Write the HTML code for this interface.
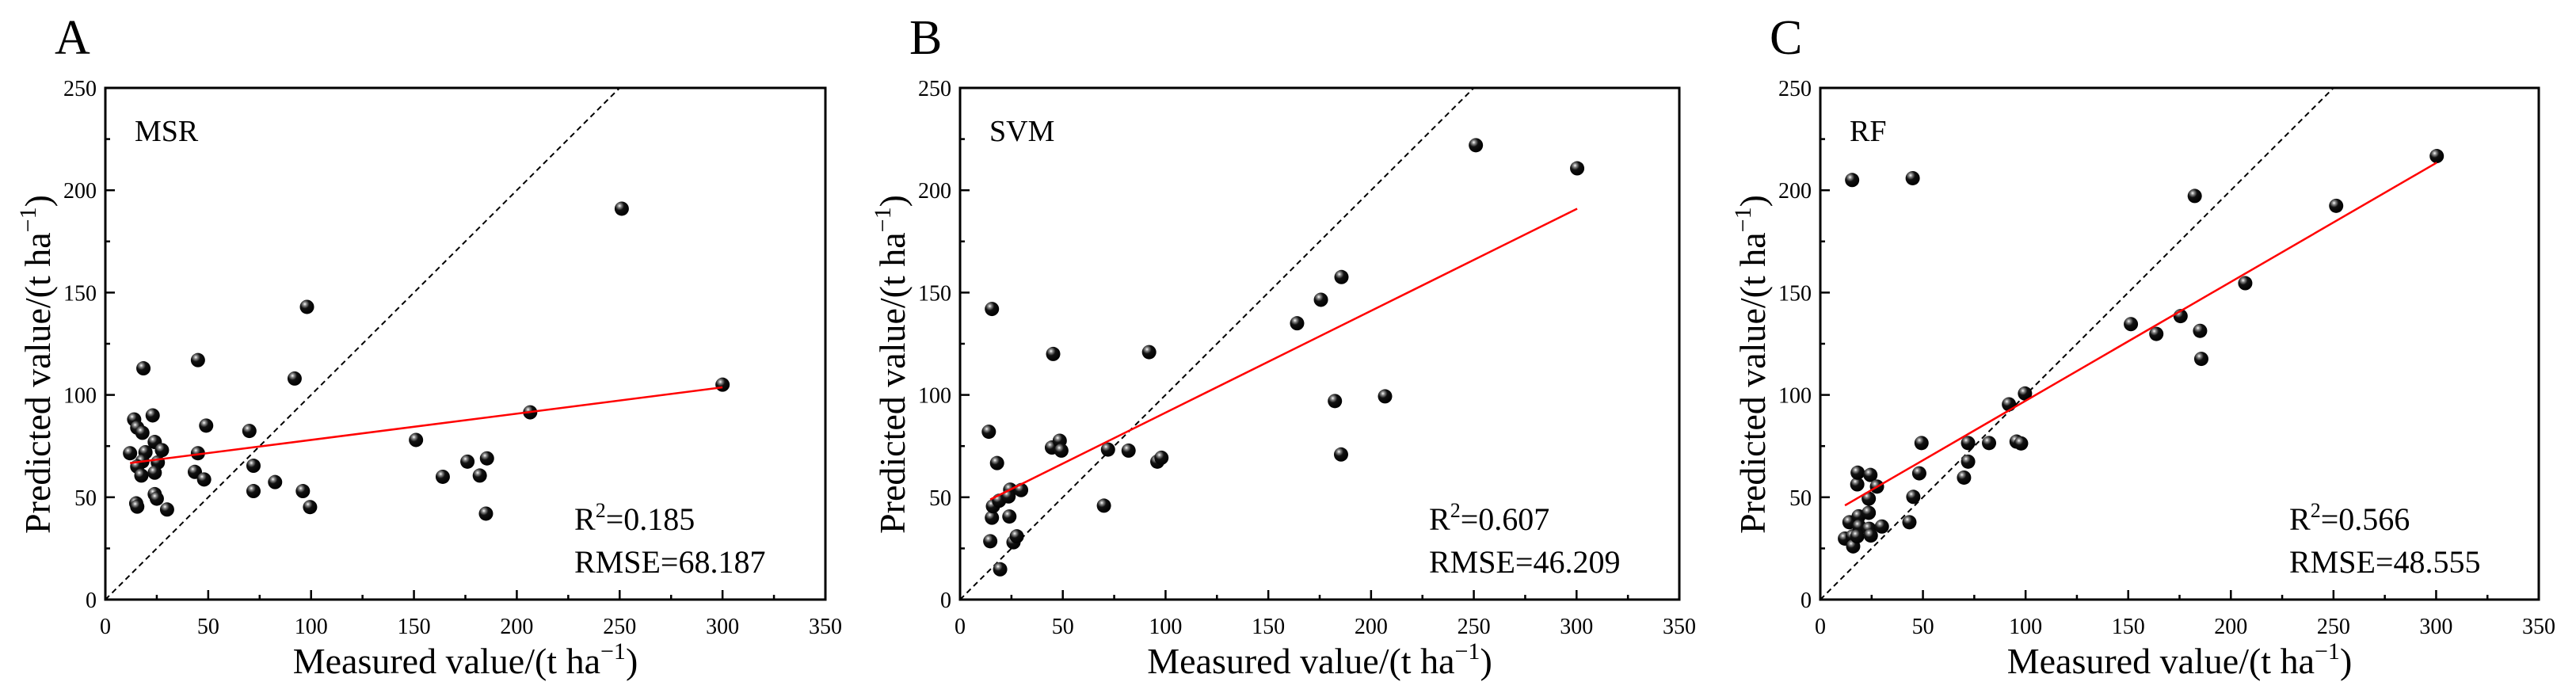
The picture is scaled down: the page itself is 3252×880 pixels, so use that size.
<!DOCTYPE html>
<html><head><meta charset="utf-8"><style>
html,body{margin:0;padding:0;background:#fff;}
svg{display:block;font-family:"Liberation Serif",serif;}
</style></head><body>
<svg id="fig" width="3252" height="880" viewBox="0 0 3252 880" xmlns="http://www.w3.org/2000/svg">
<defs>
<radialGradient id="ball" cx="0.35" cy="0.3" r="0.7">
<stop offset="0" stop-color="#ffffff"/><stop offset="0.18" stop-color="#888"/><stop offset="0.45" stop-color="#111"/><stop offset="1" stop-color="#000"/>
</radialGradient>
</defs>
</svg>
<script>
const xTicks = [0,50,100,150,200,250,300,350];
const yTicks = [0,50,100,150,200,250];
const panelLetters = ["A","B","C"];
const modelNames = ["MSR","SVM","RF"];
const r2Values = ["0.185","0.607","0.566"];
const rmseValues = ["68.187","46.209","48.555"];

const msrMeasured = [12,14,15.5,18,18.5,19.5,18,15.5,17.5,15,15.5,23,24,27.5,25.5,24,24,25,30,45,49,45,43.5,48,70,72,72,82.5,92,98,96,99.5,151,164,176,182,185.5,185,206.5,251,300];
const msrPredicted = [71.5,88,84,81.5,113,72,67.5,65,60.6,47,45.4,90,77,73,67,62,51.5,49.3,44,117,85,71.5,62.4,58.7,82.4,65.4,53,57.4,108,143,53,45.2,78,60,67.4,60.6,69,42,91.5,191,105];
const msrFit = [[12,66.7],[300,103.7]];

const svmMeasured = [14,15.5,18,15.5,16,19,14.7,19.5,24.4,23.6,24,26,27.6,29.7,45.3,44.7,48.5,49.3,72,70,82,92,96,98,164,175.6,185.6,182.4,185.4,206.8,251,300.3];
const svmPredicted = [82,142,66.7,40,45.6,48.3,28.5,14.8,53.7,50.4,40.6,28,30.9,53.5,120,74.3,77.6,72.8,73.3,45.9,72.8,120.9,67.4,69.3,135,146.5,157.6,97,70.9,99.3,222,210.7];
const svmFit = [[14.7,48.9],[300.3,191]];

const rfMeasured = [15.5,45,12,14.2,15.8,16,18,18.2,18.7,19,18,23.6,23.6,24.4,23.8,24.6,27.6,30,43.4,45.3,48.2,49.3,70,72,72,82.2,91.9,95.6,97.8,99.7,151.3,163.7,175.5,182.4,185,185.6,207,251.3,300.3];
const rfPredicted = [205,205.9,29.8,37.8,30.9,26,56.3,62,40.7,35.7,30.9,49.3,42.4,60.9,34.6,31.3,55.2,35.7,37.8,50.2,61.7,76.5,59.6,67.4,76.5,76.5,95.4,77.2,76.3,100.7,134.6,129.8,138.5,197.2,131.3,117.6,154.6,192.4,216.7];
const rfFit = [[12,46],[300.3,213.5]];

const measuredSets = [msrMeasured, svmMeasured, rfMeasured];
const predictedSets = [msrPredicted, svmPredicted, rfPredicted];
const fitSets = [msrFit, svmFit, rfFit];

const NS = "http://www.w3.org/2000/svg";
const svg = document.getElementById("fig");
function mk(tag, attrs, parent){ const e=document.createElementNS(NS,tag); for(const k in attrs) e.setAttribute(k,attrs[k]); (parent||svg).appendChild(e); return e; }

const lefts=[133,1212,2298], rights=[1042,2120,3205], TOP=111, BOTTOM=757;
for(let p=0;p<3;p++){
  const L=lefts[p], R=rights[p];
  const sx=v=>L+(v/350)*(R-L);
  const sy=v=>BOTTOM-(v/250)*(BOTTOM-TOP);
  const g=mk("g",{});
  
  
  const cp=mk("clipPath",{id:"clip"+p},g); mk("rect",{x:L,y:TOP,width:R-L,height:BOTTOM-TOP},cp);
  const letter=mk("text",{x:L-64,y:68,"font-size":62},g); letter.textContent=panelLetters[p];
  
  
  // 1:1 line
  const d=mk("line",{x1:sx(0),y1:sy(0),x2:sx(250),y2:sy(250),stroke:"#000","stroke-width":2,"stroke-dasharray":"7,5","clip-path":"url(#clip"+p+")"},g);
  
  
  // points
  const ms=measuredSets[p], ps=predictedSets[p];
  for(let i=0;i<ms.length;i++){
    const c=mk("circle",{cx:sx(ms[i]),cy:sy(ps[i]),r:9,fill:"url(#ball)"},g);
    
    
  }
  const f=fitSets[p];
  const fl=mk("line",{x1:sx(f[0][0]),y1:sy(f[0][1]),x2:sx(f[1][0]),y2:sy(f[1][1]),stroke:"#ff0000","stroke-width":2.5},g);
  
  
  // frame
  const fr=mk("rect",{x:L,y:TOP,width:R-L,height:BOTTOM-TOP,fill:"none",stroke:"#000","stroke-width":3},g);
  
  
  // x ticks
  for(let v=0; v<=350; v+=25){
    const maj=v%50===0;
    mk("line",{x1:sx(v),x2:sx(v),y1:BOTTOM,y2:BOTTOM-(maj?12:6),stroke:"#000","stroke-width":2.5},g);
  }
  xTicks.forEach(v=>{
    const t=mk("text",{x:sx(v),y:800,"font-size":28,"text-anchor":"middle"},g); t.textContent=v;
    
    
  });
  for(let v=0; v<=250; v+=25){
    const maj=v%50===0;
    mk("line",{x1:L,x2:L+(maj?12:6),y1:sy(v),y2:sy(v),stroke:"#000","stroke-width":2.5},g);
  }
  yTicks.forEach(v=>{
    const t=mk("text",{x:L-11,y:sy(v)+10,"font-size":28,"text-anchor":"end"},g); t.textContent=v;
    
    
  });
  // titles
  const xt=mk("text",{x:(L+R)/2,y:850,"font-size":46,"text-anchor":"middle"},g);
  xt.innerHTML='Measured value/(t ha<tspan dy="-18" font-size="30">−1</tspan><tspan dy="18">)</tspan>';
  
  
  const yt=mk("text",{x:0,y:0,"font-size":46,"text-anchor":"middle",transform:"translate("+(L-70)+","+((TOP+BOTTOM)/2+26)+") rotate(-90)"},g);
  yt.innerHTML='Predicted value/(t ha<tspan dy="-18" font-size="30">−1</tspan><tspan dy="18">)</tspan>';
  
  
  const mn=mk("text",{x:L+37,y:178,"font-size":38},g); mn.textContent=modelNames[p];
  
  
  const r2=mk("text",{x:L+592,y:669,"font-size":40},g);
  r2.innerHTML='R<tspan dy="-16" font-size="26">2</tspan><tspan dy="16">='+r2Values[p]+'</tspan>';
  
  
  const rm=mk("text",{x:L+592,y:723,"font-size":40},g); rm.textContent='RMSE='+rmseValues[p];
  
  
}
</script>
</body></html>
